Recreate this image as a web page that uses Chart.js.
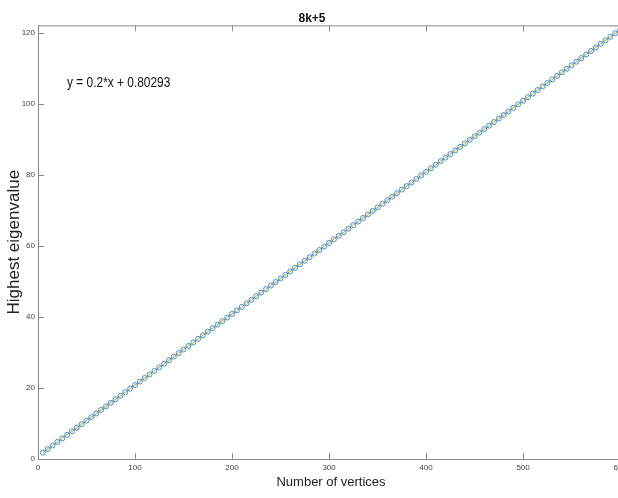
<!DOCTYPE html>
<html>
<head>
<meta charset="utf-8">
<script src="https://cdn.jsdelivr.net/npm/chart.js@4.4.1/dist/chart.umd.min.js"></script>
<style>
  html, body { margin: 0; padding: 0; background: #fff; overflow: hidden; }
  #wrap { width: 618px; height: 498px; overflow: hidden; }
</style>
</head>
<body>
<div id="wrap"><canvas id="eigChart" width="662" height="498"></canvas></div>
<script>
// 8k+5 graphs: highest eigenvalue against number of vertices

var vertices = [
  5, 10, 15, 20, 25, 30, 35, 40, 45, 50, 55, 60, 65, 70, 75, 80, 85, 90, 95, 100,
  105, 110, 115, 120, 125, 130, 135, 140, 145, 150, 155, 160, 165, 170, 175, 180, 185, 190, 195, 200,
  205, 210, 215, 220, 225, 230, 235, 240, 245, 250, 255, 260, 265, 270, 275, 280, 285, 290, 295, 300,
  305, 310, 315, 320, 325, 330, 335, 340, 345, 350, 355, 360, 365, 370, 375, 380, 385, 390, 395, 400,
  405, 410, 415, 420, 425, 430, 435, 440, 445, 450, 455, 460, 465, 470, 475, 480, 485, 490, 495, 500,
  505, 510, 515, 520, 525, 530, 535, 540, 545, 550, 555, 560, 565, 570, 575, 580, 585, 590, 595, 600
];

var eigenvalues = [
  1.8, 2.8, 3.8, 4.8, 5.8, 6.8, 7.8, 8.8, 9.8, 10.8, 11.8, 12.8, 13.8, 14.8, 15.8, 16.8, 17.8, 18.8, 19.8, 20.8,
  21.8, 22.8, 23.8, 24.8, 25.8, 26.8, 27.8, 28.8, 29.8, 30.8, 31.8, 32.8, 33.8, 34.8, 35.8, 36.8, 37.8, 38.8, 39.8, 40.8,
  41.8, 42.8, 43.8, 44.8, 45.8, 46.8, 47.8, 48.8, 49.8, 50.8, 51.8, 52.8, 53.8, 54.8, 55.8, 56.8, 57.8, 58.8, 59.8, 60.8,
  61.8, 62.8, 63.8, 64.8, 65.8, 66.8, 67.8, 68.8, 69.8, 70.8, 71.8, 72.8, 73.8, 74.8, 75.8, 76.8, 77.8, 78.8, 79.8, 80.8,
  81.8, 82.8, 83.8, 84.8, 85.8, 86.8, 87.8, 88.8, 89.8, 90.8, 91.8, 92.8, 93.8, 94.8, 95.8, 96.8, 97.8, 98.8, 99.8, 100.8,
  101.8, 102.8, 103.8, 104.8, 105.8, 106.8, 107.8, 108.8, 109.8, 110.8, 111.8, 112.8, 113.8, 114.8, 115.8, 116.8, 117.8, 118.8, 119.8, 120.8
];

var xTicks = [0, 100, 200, 300, 400, 500, 600];
var yTicks = [0, 20, 40, 60, 80, 100, 120];

var fitText = "y = 0.2*x + 0.80293";

var sans = "'Liberation Sans', Arial, sans-serif";
var axisColor = "#8a8a8a";

var points = vertices.map(function (v, i) { return { x: v, y: eigenvalues[i] }; });

// MATLAB style inward tick marks, top box line and the fit label
var boxPlugin = {
  id: "boxTicks",
  afterDraw: function (chart) {
    var ctx = chart.ctx;
    var area = chart.chartArea;
    var xs = chart.scales.x, ys = chart.scales.y;
    ctx.save();
    ctx.strokeStyle = axisColor;
    ctx.lineWidth = 1;
    ctx.beginPath();
    ctx.moveTo(area.left, area.top + 0.5);
    ctx.lineTo(area.right, area.top + 0.5);
    xTicks.forEach(function (t) {
      var px = Math.round(xs.getPixelForValue(t)) + 0.5;
      ctx.moveTo(px, area.bottom);
      ctx.lineTo(px, area.bottom - 6);
      ctx.moveTo(px, area.top);
      ctx.lineTo(px, area.top + 6);
    });
    yTicks.forEach(function (t) {
      var py = Math.round(ys.getPixelForValue(t)) + 0.5;
      ctx.moveTo(area.left, py);
      ctx.lineTo(area.left + 6, py);
    });
    ctx.stroke();

    // fit label, squeezed sideways like the narrow font of the original
    var lx = xs.getPixelForValue(30), ly = ys.getPixelForValue(105.7);
    ctx.translate(lx, ly);
    ctx.scale(0.85, 1);
    ctx.fillStyle = "#111";
    ctx.font = "14px " + sans;
    ctx.textBaseline = "middle";
    ctx.textAlign = "left";
    ctx.fillText(fitText, 0, 0);
    ctx.restore();
  }
};

new Chart("eigChart", {
  type: "scatter",
  data: {
    datasets: [{
      data: points,
      showLine: true,
      borderColor: "#d9b850",
      borderWidth: 1.2,
      pointStyle: "circle",
      pointRadius: 2.5,
      pointBorderWidth: 1,
      pointBorderColor: "#3f8fd0",
      pointBackgroundColor: "rgba(0,0,0,0)"
    }]
  },
  options: {
    responsive: false,
    animation: false,
    devicePixelRatio: 1,
    layout: { padding: { left: 0, right: 38, top: 0, bottom: 0 } },
    plugins: {
      legend: { display: false },
      tooltip: { enabled: false },
      title: {
        display: true,
        text: "8k+5",
        color: "#111",
        font: { family: sans, size: 12, weight: "bold" },
        padding: { top: 11, bottom: 0 }
      }
    },
    scales: {
      x: {
        type: "linear",
        min: 0,
        max: 604,
        afterFit: function (s) { s.height = 39; },
        afterBuildTicks: function (s) { s.ticks = xTicks.map(function (v) { return { value: v }; }); },
        grid: { display: false, drawTicks: false },
        border: { display: true, color: axisColor, width: 1 },
        ticks: { color: "#444", font: { family: sans, size: 8 }, padding: 4, maxRotation: 0 },
        title: {
          display: true,
          text: "Number of vertices",
          color: "#222",
          font: { family: sans, size: 13 },
          padding: { top: 0, bottom: 8 }
        }
      },
      y: {
        type: "linear",
        min: 0,
        max: 122,
        afterFit: function (s) { s.width = 38; },
        afterBuildTicks: function (s) { s.ticks = yTicks.map(function (v) { return { value: v }; }); },
        grid: { display: false, drawTicks: false },
        border: { display: true, color: axisColor, width: 1 },
        ticks: { color: "#444", font: { family: sans, size: 8 }, padding: 3 },
        title: {
          display: true,
          text: "Highest eigenvalue",
          color: "#222",
          font: { family: sans, size: 17 },
          padding: { top: 4, bottom: 0 }
        }
      }
    }
  },
  plugins: [boxPlugin]
});
</script>
</body>
</html>
